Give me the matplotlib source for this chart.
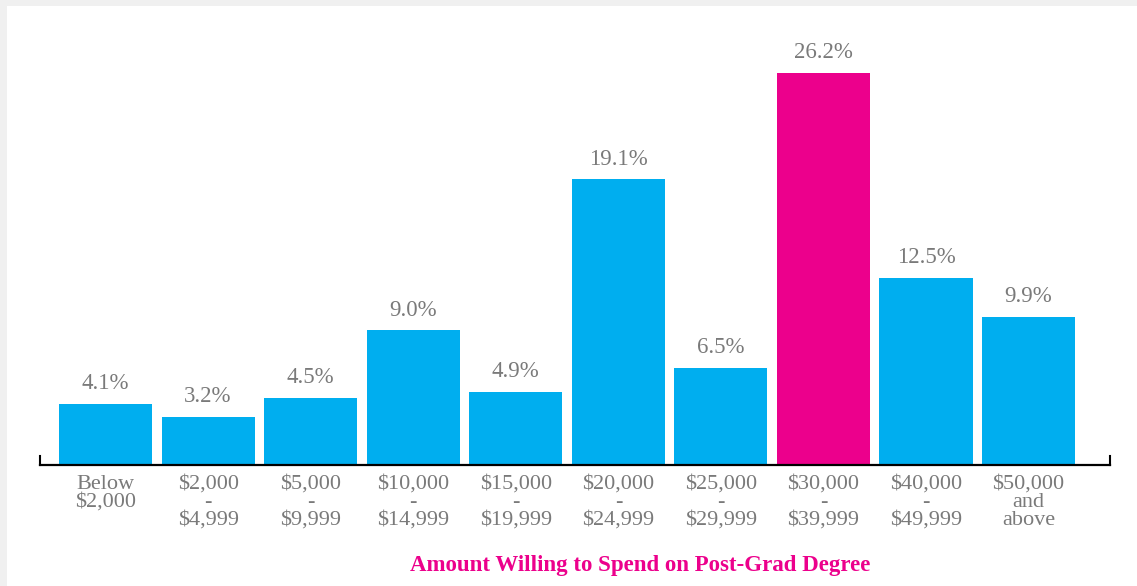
import matplotlib.pyplot as plt
import matplotlib.patches as patches
import numpy as np

# chart data
categories = ["Below\n$2,000", "$2,000\n-\n$4,999", "$5,000\n-\n$9,999",
              "$10,000\n-\n$14,999", "$15,000\n-\n$19,999", "$20,000\n-\n$24,999",
              "$25,000\n-\n$29,999", "$30,000\n-\n$39,999", "$40,000\n-\n$49,999",
              "$50,000\nand\nabove"]
shares = [4.1, 3.2, 4.5, 9.0, 4.9, 19.1, 6.5, 26.2, 12.5, 9.9]
highlight = "$30,000\n-\n$39,999"

BLUE = '#00aeef'
PINK = '#ec008c'
GREY_TEXT = '#7a7a7a'
FONT = ['Liberation Serif', 'DejaVu Serif']

plt.rcParams['font.family'] = FONT

fig = plt.figure(figsize=(11.37, 5.86), dpi=100, facecolor='#f0f0f0')
# white panel with thin grey strip on top and left
fig.patches.append(patches.Rectangle((7 / 1137, 0), 1, 1 - 6 / 586, transform=fig.transFigure,
                                     facecolor='white', edgecolor='none', zorder=-10))

ax = fig.add_axes([40 / 1137, 121 / 586, 1070 / 1137, 445 / 586])
ax.set_facecolor('none')

x = np.arange(len(categories))
colors = [PINK if c == highlight else BLUE for c in categories]
bars = ax.bar(x, shares, width=0.907, color=colors, zorder=2)

for b, v in zip(bars, shares):
    ax.annotate(f"{v:.1f}%", (b.get_x() + b.get_width() / 2, b.get_height()),
                xytext=(0, 7), textcoords='offset points', ha='center', va='bottom',
                fontsize=16.5, color=GREY_TEXT)

ax.set_xlim(-0.639, 9.794)
ax.set_ylim(0, 29.75)

for s in ['top', 'right', 'left']:
    ax.spines[s].set_visible(False)
ax.spines['bottom'].set_linewidth(1.6)
ax.spines['bottom'].set_color('black')

# small end ticks on the baseline
for xe in ax.get_xlim():
    ax.axvline(xe, ymin=0, ymax=9 / 445, color='black', lw=1.5, clip_on=False)

ax.set_yticks([])
ax.set_xticks(x)
ax.set_xticklabels(categories, fontsize=16, color=GREY_TEXT, linespacing=0.93)
ax.tick_params(axis='x', length=0, pad=7)

fig.text(640 / 1137, 21 / 586, "Amount Willing to Spend on Post-Grad Degree",
         ha='center', va='center', fontsize=16.5, fontweight='bold', color=PINK)

plt.savefig('out.png', dpi=100, facecolor=fig.get_facecolor())
